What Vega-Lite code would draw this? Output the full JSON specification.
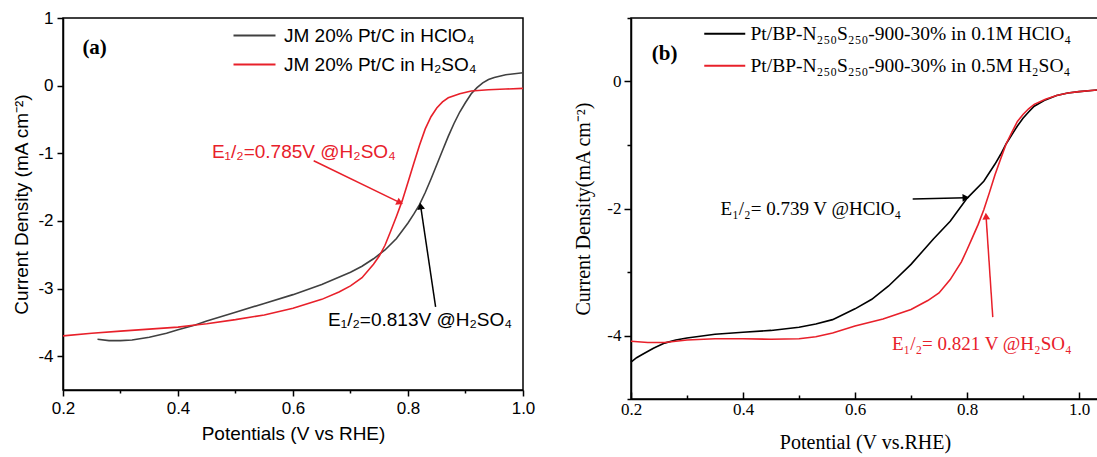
{
  "$schema": "https://vega.github.io/schema/vega-lite/v6.json",
  "autosize": {"type": "none"},
  "padding": {"left": 63, "top": 18, "right": 1034, "bottom": 439},
  "bounds": "flush",
  "spacing": 108,
  "background": "white",
  "config": {
    "view": {"stroke": "#000", "strokeWidth": 1.5},
    "axis": {"grid": false, "domainColor": "#000", "domainWidth": 1.5, "tickColor": "#000", "tickWidth": 1.5, "labelColor": "#000", "titleColor": "#000", "titleFontWeight": "normal", "labelOverlap": false, "labelFlush": false}
  },
  "resolve": {"scale": {"color": "independent"}, "legend": {"color": "independent"}},
  "hconcat": [
    {
      "width": 460,
      "height": 372,
      "layer": [
        {
          "data": {"values": [
            {"s": "JM 20% Pt/C in HClO₄", "x": 0.26, "y": -3.75},
            {"s": "JM 20% Pt/C in HClO₄", "x": 0.28, "y": -3.77},
            {"s": "JM 20% Pt/C in HClO₄", "x": 0.30, "y": -3.77},
            {"s": "JM 20% Pt/C in HClO₄", "x": 0.32, "y": -3.76},
            {"s": "JM 20% Pt/C in HClO₄", "x": 0.35, "y": -3.72},
            {"s": "JM 20% Pt/C in HClO₄", "x": 0.38, "y": -3.66},
            {"s": "JM 20% Pt/C in HClO₄", "x": 0.40, "y": -3.61},
            {"s": "JM 20% Pt/C in HClO₄", "x": 0.43, "y": -3.54},
            {"s": "JM 20% Pt/C in HClO₄", "x": 0.45, "y": -3.48},
            {"s": "JM 20% Pt/C in HClO₄", "x": 0.50, "y": -3.35},
            {"s": "JM 20% Pt/C in HClO₄", "x": 0.55, "y": -3.22},
            {"s": "JM 20% Pt/C in HClO₄", "x": 0.60, "y": -3.09},
            {"s": "JM 20% Pt/C in HClO₄", "x": 0.65, "y": -2.94},
            {"s": "JM 20% Pt/C in HClO₄", "x": 0.70, "y": -2.76},
            {"s": "JM 20% Pt/C in HClO₄", "x": 0.72, "y": -2.67},
            {"s": "JM 20% Pt/C in HClO₄", "x": 0.74, "y": -2.56},
            {"s": "JM 20% Pt/C in HClO₄", "x": 0.76, "y": -2.43},
            {"s": "JM 20% Pt/C in HClO₄", "x": 0.78, "y": -2.26},
            {"s": "JM 20% Pt/C in HClO₄", "x": 0.80, "y": -2.03},
            {"s": "JM 20% Pt/C in HClO₄", "x": 0.81, "y": -1.90},
            {"s": "JM 20% Pt/C in HClO₄", "x": 0.82, "y": -1.76},
            {"s": "JM 20% Pt/C in HClO₄", "x": 0.83, "y": -1.58},
            {"s": "JM 20% Pt/C in HClO₄", "x": 0.84, "y": -1.38},
            {"s": "JM 20% Pt/C in HClO₄", "x": 0.85, "y": -1.17},
            {"s": "JM 20% Pt/C in HClO₄", "x": 0.86, "y": -0.96},
            {"s": "JM 20% Pt/C in HClO₄", "x": 0.87, "y": -0.75},
            {"s": "JM 20% Pt/C in HClO₄", "x": 0.88, "y": -0.56},
            {"s": "JM 20% Pt/C in HClO₄", "x": 0.89, "y": -0.39},
            {"s": "JM 20% Pt/C in HClO₄", "x": 0.90, "y": -0.25},
            {"s": "JM 20% Pt/C in HClO₄", "x": 0.91, "y": -0.12},
            {"s": "JM 20% Pt/C in HClO₄", "x": 0.92, "y": -0.03},
            {"s": "JM 20% Pt/C in HClO₄", "x": 0.93, "y": 0.04},
            {"s": "JM 20% Pt/C in HClO₄", "x": 0.94, "y": 0.09},
            {"s": "JM 20% Pt/C in HClO₄", "x": 0.95, "y": 0.12},
            {"s": "JM 20% Pt/C in HClO₄", "x": 0.97, "y": 0.16},
            {"s": "JM 20% Pt/C in HClO₄", "x": 1.00, "y": 0.19},
            {"s": "JM 20% Pt/C in H₂SO₄", "x": 0.20, "y": -3.70},
            {"s": "JM 20% Pt/C in H₂SO₄", "x": 0.25, "y": -3.66},
            {"s": "JM 20% Pt/C in H₂SO₄", "x": 0.30, "y": -3.63},
            {"s": "JM 20% Pt/C in H₂SO₄", "x": 0.35, "y": -3.60},
            {"s": "JM 20% Pt/C in H₂SO₄", "x": 0.40, "y": -3.57},
            {"s": "JM 20% Pt/C in H₂SO₄", "x": 0.43, "y": -3.54},
            {"s": "JM 20% Pt/C in H₂SO₄", "x": 0.45, "y": -3.52},
            {"s": "JM 20% Pt/C in H₂SO₄", "x": 0.50, "y": -3.46},
            {"s": "JM 20% Pt/C in H₂SO₄", "x": 0.55, "y": -3.39},
            {"s": "JM 20% Pt/C in H₂SO₄", "x": 0.60, "y": -3.29},
            {"s": "JM 20% Pt/C in H₂SO₄", "x": 0.65, "y": -3.16},
            {"s": "JM 20% Pt/C in H₂SO₄", "x": 0.68, "y": -3.05},
            {"s": "JM 20% Pt/C in H₂SO₄", "x": 0.70, "y": -2.96},
            {"s": "JM 20% Pt/C in H₂SO₄", "x": 0.72, "y": -2.84},
            {"s": "JM 20% Pt/C in H₂SO₄", "x": 0.74, "y": -2.64},
            {"s": "JM 20% Pt/C in H₂SO₄", "x": 0.75, "y": -2.52},
            {"s": "JM 20% Pt/C in H₂SO₄", "x": 0.76, "y": -2.36},
            {"s": "JM 20% Pt/C in H₂SO₄", "x": 0.77, "y": -2.15},
            {"s": "JM 20% Pt/C in H₂SO₄", "x": 0.78, "y": -1.93},
            {"s": "JM 20% Pt/C in H₂SO₄", "x": 0.79, "y": -1.70},
            {"s": "JM 20% Pt/C in H₂SO₄", "x": 0.80, "y": -1.43},
            {"s": "JM 20% Pt/C in H₂SO₄", "x": 0.81, "y": -1.15},
            {"s": "JM 20% Pt/C in H₂SO₄", "x": 0.82, "y": -0.88},
            {"s": "JM 20% Pt/C in H₂SO₄", "x": 0.83, "y": -0.64},
            {"s": "JM 20% Pt/C in H₂SO₄", "x": 0.84, "y": -0.46},
            {"s": "JM 20% Pt/C in H₂SO₄", "x": 0.85, "y": -0.33},
            {"s": "JM 20% Pt/C in H₂SO₄", "x": 0.86, "y": -0.24},
            {"s": "JM 20% Pt/C in H₂SO₄", "x": 0.87, "y": -0.18},
            {"s": "JM 20% Pt/C in H₂SO₄", "x": 0.89, "y": -0.12},
            {"s": "JM 20% Pt/C in H₂SO₄", "x": 0.91, "y": -0.08},
            {"s": "JM 20% Pt/C in H₂SO₄", "x": 0.94, "y": -0.06},
            {"s": "JM 20% Pt/C in H₂SO₄", "x": 0.97, "y": -0.05},
            {"s": "JM 20% Pt/C in H₂SO₄", "x": 1.00, "y": -0.04}
          ]},
          "mark": {"type": "line", "strokeWidth": 1.6},
          "encoding": {
            "x": {"field": "x", "type": "quantitative", "scale": {"domain": [0.2, 1.0], "nice": false, "zero": false},
              "axis": {"title": "Potentials (V vs RHE)", "values": [0.2, 0.3, 0.4, 0.5, 0.6, 0.7, 0.8, 0.9, 1.0],
                "labelExpr": "abs(datum.value*5 - round(datum.value*5)) < 0.001 ? format(datum.value, '.1f') : ''",
                "tickSize": {"condition": {"test": "abs(datum.value*5 - round(datum.value*5)) > 0.001", "value": 3}, "value": 6},
                "labelFont": "Liberation Sans", "labelFontSize": 17, "labelPadding": 4, "titleFont": "Liberation Sans", "titleFontSize": 19, "titlePadding": 8}},
            "y": {"field": "y", "type": "quantitative", "scale": {"domain": [-4.5, 1], "nice": false, "zero": false},
              "axis": {"title": "Current Density (mA cm⁻²)", "values": [-4, -3.5, -3, -2.5, -2, -1.5, -1, -0.5, 0, 0.5, 1],
                "labelExpr": "datum.value == round(datum.value) ? replace(format(datum.value, 'd'), '−', '-') : ''",
                "tickSize": {"condition": {"test": "datum.value != round(datum.value)", "value": 3}, "value": 6},
                "labelFont": "Liberation Sans", "labelFontSize": 17, "labelPadding": 4, "titleFont": "Liberation Sans", "titleFontSize": 19, "titlePadding": 6}},
            "color": {"field": "s", "type": "nominal",
              "scale": {"domain": ["JM 20% Pt/C in HClO₄", "JM 20% Pt/C in H₂SO₄"], "range": ["#404040", "#e8202a"]},
              "legend": {"title": null, "orient": "none", "legendX": 182, "legendY": 8, "padding": 0,
                "symbolType": "M-4.2,0H4.2", "symbolSize": 100, "symbolStrokeWidth": 2, "labelOffset": 20,
                "rowPadding": 9, "labelFont": "Liberation Sans", "labelFontSize": 19, "labelColor": "#000", "labelLimit": 400}}
          }
        },
        {
          "data": {"values": [{"x": 0.459, "y": -0.98, "t": "E₁/₂=0.785V @H₂SO₄"}]},
          "mark": {"type": "text", "align": "left", "baseline": "middle", "font": "Liberation Sans", "fontSize": 19, "color": "#e8202a"},
          "encoding": {"x": {"field": "x", "type": "quantitative"}, "y": {"field": "y", "type": "quantitative"}, "text": {"field": "t"}}
        },
        {
          "data": {"values": [{"x": 0.661, "y": -3.46, "t": "E₁/₂=0.813V @H₂SO₄"}]},
          "mark": {"type": "text", "align": "left", "baseline": "middle", "font": "Liberation Sans", "fontSize": 19, "color": "#000"},
          "encoding": {"x": {"field": "x", "type": "quantitative"}, "y": {"field": "y", "type": "quantitative"}, "text": {"field": "t"}}
        },
        {
          "data": {"values": [{"x": 0.255, "y": 0.55, "t": "(a)"}]},
          "mark": {"type": "text", "align": "center", "baseline": "middle", "font": "Liberation Serif", "fontWeight": "bold", "fontSize": 21, "color": "#000"},
          "encoding": {"x": {"field": "x", "type": "quantitative"}, "y": {"field": "y", "type": "quantitative"}, "text": {"field": "t"}}
        },
        {
          "data": {"values": [{"x": 0.636, "y": -1.11, "x2": 0.786, "y2": -1.73}]},
          "mark": {"type": "rule", "color": "#e8202a", "strokeWidth": 1.5},
          "encoding": {"x": {"field": "x", "type": "quantitative"}, "y": {"field": "y", "type": "quantitative"}, "x2": {"field": "x2"}, "y2": {"field": "y2"}}
        },
        {
          "data": {"values": [{"x": 0.786, "y": -1.73}]},
          "mark": {"type": "point", "shape": "triangle-up", "filled": true, "opacity": 1, "size": 60, "angle": 116, "color": "#e8202a"},
          "encoding": {"x": {"field": "x", "type": "quantitative"}, "y": {"field": "y", "type": "quantitative"}}
        },
        {
          "data": {"values": [{"x": 0.848, "y": -3.27, "x2": 0.822, "y2": -1.78}]},
          "mark": {"type": "rule", "color": "#000", "strokeWidth": 1.5},
          "encoding": {"x": {"field": "x", "type": "quantitative"}, "y": {"field": "y", "type": "quantitative"}, "x2": {"field": "x2"}, "y2": {"field": "y2"}}
        },
        {
          "data": {"values": [{"x": 0.822, "y": -1.78}]},
          "mark": {"type": "point", "shape": "triangle-up", "filled": true, "opacity": 1, "size": 60, "angle": -8.5, "color": "#000"},
          "encoding": {"x": {"field": "x", "type": "quantitative"}, "y": {"field": "y", "type": "quantitative"}}
        }
      ]
    },
    {
      "width": 468,
      "height": 381,
      "layer": [
        {
          "data": {"values": [
            {"s": "Pt/BP-N₂₅₀S₂₅₀-900-30% in 0.1M HClO₄", "x": 0.200, "y": -4.42},
            {"s": "Pt/BP-N₂₅₀S₂₅₀-900-30% in 0.1M HClO₄", "x": 0.210, "y": -4.35},
            {"s": "Pt/BP-N₂₅₀S₂₅₀-900-30% in 0.1M HClO₄", "x": 0.220, "y": -4.30},
            {"s": "Pt/BP-N₂₅₀S₂₅₀-900-30% in 0.1M HClO₄", "x": 0.240, "y": -4.20},
            {"s": "Pt/BP-N₂₅₀S₂₅₀-900-30% in 0.1M HClO₄", "x": 0.260, "y": -4.12},
            {"s": "Pt/BP-N₂₅₀S₂₅₀-900-30% in 0.1M HClO₄", "x": 0.280, "y": -4.07},
            {"s": "Pt/BP-N₂₅₀S₂₅₀-900-30% in 0.1M HClO₄", "x": 0.300, "y": -4.04},
            {"s": "Pt/BP-N₂₅₀S₂₅₀-900-30% in 0.1M HClO₄", "x": 0.350, "y": -3.98},
            {"s": "Pt/BP-N₂₅₀S₂₅₀-900-30% in 0.1M HClO₄", "x": 0.400, "y": -3.95},
            {"s": "Pt/BP-N₂₅₀S₂₅₀-900-30% in 0.1M HClO₄", "x": 0.450, "y": -3.92},
            {"s": "Pt/BP-N₂₅₀S₂₅₀-900-30% in 0.1M HClO₄", "x": 0.500, "y": -3.87},
            {"s": "Pt/BP-N₂₅₀S₂₅₀-900-30% in 0.1M HClO₄", "x": 0.530, "y": -3.82},
            {"s": "Pt/BP-N₂₅₀S₂₅₀-900-30% in 0.1M HClO₄", "x": 0.560, "y": -3.75},
            {"s": "Pt/BP-N₂₅₀S₂₅₀-900-30% in 0.1M HClO₄", "x": 0.600, "y": -3.58},
            {"s": "Pt/BP-N₂₅₀S₂₅₀-900-30% in 0.1M HClO₄", "x": 0.630, "y": -3.43},
            {"s": "Pt/BP-N₂₅₀S₂₅₀-900-30% in 0.1M HClO₄", "x": 0.660, "y": -3.22},
            {"s": "Pt/BP-N₂₅₀S₂₅₀-900-30% in 0.1M HClO₄", "x": 0.700, "y": -2.88},
            {"s": "Pt/BP-N₂₅₀S₂₅₀-900-30% in 0.1M HClO₄", "x": 0.740, "y": -2.48},
            {"s": "Pt/BP-N₂₅₀S₂₅₀-900-30% in 0.1M HClO₄", "x": 0.770, "y": -2.20},
            {"s": "Pt/BP-N₂₅₀S₂₅₀-900-30% in 0.1M HClO₄", "x": 0.800, "y": -1.84},
            {"s": "Pt/BP-N₂₅₀S₂₅₀-900-30% in 0.1M HClO₄", "x": 0.830, "y": -1.57},
            {"s": "Pt/BP-N₂₅₀S₂₅₀-900-30% in 0.1M HClO₄", "x": 0.850, "y": -1.30},
            {"s": "Pt/BP-N₂₅₀S₂₅₀-900-30% in 0.1M HClO₄", "x": 0.860, "y": -1.15},
            {"s": "Pt/BP-N₂₅₀S₂₅₀-900-30% in 0.1M HClO₄", "x": 0.870, "y": -0.98},
            {"s": "Pt/BP-N₂₅₀S₂₅₀-900-30% in 0.1M HClO₄", "x": 0.880, "y": -0.84},
            {"s": "Pt/BP-N₂₅₀S₂₅₀-900-30% in 0.1M HClO₄", "x": 0.890, "y": -0.70},
            {"s": "Pt/BP-N₂₅₀S₂₅₀-900-30% in 0.1M HClO₄", "x": 0.900, "y": -0.58},
            {"s": "Pt/BP-N₂₅₀S₂₅₀-900-30% in 0.1M HClO₄", "x": 0.910, "y": -0.48},
            {"s": "Pt/BP-N₂₅₀S₂₅₀-900-30% in 0.1M HClO₄", "x": 0.920, "y": -0.39},
            {"s": "Pt/BP-N₂₅₀S₂₅₀-900-30% in 0.1M HClO₄", "x": 0.940, "y": -0.29},
            {"s": "Pt/BP-N₂₅₀S₂₅₀-900-30% in 0.1M HClO₄", "x": 0.960, "y": -0.22},
            {"s": "Pt/BP-N₂₅₀S₂₅₀-900-30% in 0.1M HClO₄", "x": 0.980, "y": -0.18},
            {"s": "Pt/BP-N₂₅₀S₂₅₀-900-30% in 0.1M HClO₄", "x": 1.000, "y": -0.16},
            {"s": "Pt/BP-N₂₅₀S₂₅₀-900-30% in 0.1M HClO₄", "x": 1.036, "y": -0.13},
            {"s": "Pt/BP-N₂₅₀S₂₅₀-900-30% in 0.5M H₂SO₄", "x": 0.200, "y": -4.09},
            {"s": "Pt/BP-N₂₅₀S₂₅₀-900-30% in 0.5M H₂SO₄", "x": 0.230, "y": -4.11},
            {"s": "Pt/BP-N₂₅₀S₂₅₀-900-30% in 0.5M H₂SO₄", "x": 0.260, "y": -4.11},
            {"s": "Pt/BP-N₂₅₀S₂₅₀-900-30% in 0.5M H₂SO₄", "x": 0.300, "y": -4.07},
            {"s": "Pt/BP-N₂₅₀S₂₅₀-900-30% in 0.5M H₂SO₄", "x": 0.350, "y": -4.05},
            {"s": "Pt/BP-N₂₅₀S₂₅₀-900-30% in 0.5M H₂SO₄", "x": 0.400, "y": -4.05},
            {"s": "Pt/BP-N₂₅₀S₂₅₀-900-30% in 0.5M H₂SO₄", "x": 0.450, "y": -4.06},
            {"s": "Pt/BP-N₂₅₀S₂₅₀-900-30% in 0.5M H₂SO₄", "x": 0.500, "y": -4.05},
            {"s": "Pt/BP-N₂₅₀S₂₅₀-900-30% in 0.5M H₂SO₄", "x": 0.530, "y": -4.02},
            {"s": "Pt/BP-N₂₅₀S₂₅₀-900-30% in 0.5M H₂SO₄", "x": 0.560, "y": -3.96},
            {"s": "Pt/BP-N₂₅₀S₂₅₀-900-30% in 0.5M H₂SO₄", "x": 0.600, "y": -3.85},
            {"s": "Pt/BP-N₂₅₀S₂₅₀-900-30% in 0.5M H₂SO₄", "x": 0.650, "y": -3.74},
            {"s": "Pt/BP-N₂₅₀S₂₅₀-900-30% in 0.5M H₂SO₄", "x": 0.700, "y": -3.59},
            {"s": "Pt/BP-N₂₅₀S₂₅₀-900-30% in 0.5M H₂SO₄", "x": 0.730, "y": -3.45},
            {"s": "Pt/BP-N₂₅₀S₂₅₀-900-30% in 0.5M H₂SO₄", "x": 0.750, "y": -3.33},
            {"s": "Pt/BP-N₂₅₀S₂₅₀-900-30% in 0.5M H₂SO₄", "x": 0.770, "y": -3.12},
            {"s": "Pt/BP-N₂₅₀S₂₅₀-900-30% in 0.5M H₂SO₄", "x": 0.790, "y": -2.84},
            {"s": "Pt/BP-N₂₅₀S₂₅₀-900-30% in 0.5M H₂SO₄", "x": 0.800, "y": -2.65},
            {"s": "Pt/BP-N₂₅₀S₂₅₀-900-30% in 0.5M H₂SO₄", "x": 0.810, "y": -2.45},
            {"s": "Pt/BP-N₂₅₀S₂₅₀-900-30% in 0.5M H₂SO₄", "x": 0.820, "y": -2.25},
            {"s": "Pt/BP-N₂₅₀S₂₅₀-900-30% in 0.5M H₂SO₄", "x": 0.830, "y": -2.02},
            {"s": "Pt/BP-N₂₅₀S₂₅₀-900-30% in 0.5M H₂SO₄", "x": 0.840, "y": -1.75},
            {"s": "Pt/BP-N₂₅₀S₂₅₀-900-30% in 0.5M H₂SO₄", "x": 0.850, "y": -1.47},
            {"s": "Pt/BP-N₂₅₀S₂₅₀-900-30% in 0.5M H₂SO₄", "x": 0.860, "y": -1.22},
            {"s": "Pt/BP-N₂₅₀S₂₅₀-900-30% in 0.5M H₂SO₄", "x": 0.870, "y": -0.98},
            {"s": "Pt/BP-N₂₅₀S₂₅₀-900-30% in 0.5M H₂SO₄", "x": 0.880, "y": -0.80},
            {"s": "Pt/BP-N₂₅₀S₂₅₀-900-30% in 0.5M H₂SO₄", "x": 0.890, "y": -0.63},
            {"s": "Pt/BP-N₂₅₀S₂₅₀-900-30% in 0.5M H₂SO₄", "x": 0.900, "y": -0.52},
            {"s": "Pt/BP-N₂₅₀S₂₅₀-900-30% in 0.5M H₂SO₄", "x": 0.910, "y": -0.43},
            {"s": "Pt/BP-N₂₅₀S₂₅₀-900-30% in 0.5M H₂SO₄", "x": 0.920, "y": -0.36},
            {"s": "Pt/BP-N₂₅₀S₂₅₀-900-30% in 0.5M H₂SO₄", "x": 0.940, "y": -0.28},
            {"s": "Pt/BP-N₂₅₀S₂₅₀-900-30% in 0.5M H₂SO₄", "x": 0.960, "y": -0.22},
            {"s": "Pt/BP-N₂₅₀S₂₅₀-900-30% in 0.5M H₂SO₄", "x": 0.980, "y": -0.18},
            {"s": "Pt/BP-N₂₅₀S₂₅₀-900-30% in 0.5M H₂SO₄", "x": 1.000, "y": -0.16},
            {"s": "Pt/BP-N₂₅₀S₂₅₀-900-30% in 0.5M H₂SO₄", "x": 1.036, "y": -0.13}
          ]},
          "mark": {"type": "line", "strokeWidth": 1.6},
          "encoding": {
            "x": {"field": "x", "type": "quantitative", "scale": {"domain": [0.2, 1.0357], "nice": false, "zero": false},
              "axis": {"title": "Potential (V vs.RHE)", "values": [0.2, 0.3, 0.4, 0.5, 0.6, 0.7, 0.8, 0.9, 1.0],
                "labelExpr": "abs(datum.value*5 - round(datum.value*5)) < 0.001 ? format(datum.value, '.1f') : ''",
                "tickSize": {"condition": {"test": "abs(datum.value*5 - round(datum.value*5)) > 0.001", "value": -4}, "value": -7},
                "labelFont": "Liberation Serif", "labelFontSize": 17, "labelPadding": 9, "titleFont": "Liberation Serif", "titleFontSize": 20, "titlePadding": 12}},
            "y": {"field": "y", "type": "quantitative", "scale": {"domain": [-5, 1], "nice": false, "zero": false},
              "axis": {"title": "Current Density(mA cm⁻²)", "values": [-5, -4, -3, -2, -1, 0, 1],
                "labelExpr": "datum.value % 2 == 0 ? replace(format(datum.value, 'd'), '−', '-') : ''",
                "tickSize": {"condition": {"test": "datum.value % 2 != 0", "value": 4}, "value": 7},
                "labelFont": "Liberation Serif", "labelFontSize": 17, "labelPadding": 3, "titleFont": "Liberation Serif", "titleFontSize": 20, "titlePadding": 13}},
            "color": {"field": "s", "type": "nominal",
              "scale": {"domain": ["Pt/BP-N₂₅₀S₂₅₀-900-30% in 0.1M HClO₄", "Pt/BP-N₂₅₀S₂₅₀-900-30% in 0.5M H₂SO₄"], "range": ["#000000", "#e8202a"]},
              "legend": {"title": null, "orient": "none", "legendX": 84, "legendY": 6, "padding": 0,
                "symbolType": "M-4.1,0H4.1", "symbolSize": 100, "symbolStrokeWidth": 2, "labelOffset": 16,
                "rowPadding": 11, "labelFont": "Liberation Serif", "labelFontSize": 19.5, "labelColor": "#000", "labelLimit": 500}}
          }
        },
        {
          "data": {"values": [{"x": 0.36, "y": -2.0, "t": "E₁/₂= 0.739 V @HClO₄"}]},
          "mark": {"type": "text", "align": "left", "baseline": "middle", "font": "Liberation Serif", "fontSize": 19, "color": "#000"},
          "encoding": {"x": {"field": "x", "type": "quantitative"}, "y": {"field": "y", "type": "quantitative"}, "text": {"field": "t"}}
        },
        {
          "data": {"values": [{"x": 0.666, "y": -4.13, "t": "E₁/₂= 0.821 V @H₂SO₄"}]},
          "mark": {"type": "text", "align": "left", "baseline": "middle", "font": "Liberation Serif", "fontSize": 19, "color": "#e8202a"},
          "encoding": {"x": {"field": "x", "type": "quantitative"}, "y": {"field": "y", "type": "quantitative"}, "text": {"field": "t"}}
        },
        {
          "data": {"values": [{"x": 0.26, "y": 0.43, "t": "(b)"}]},
          "mark": {"type": "text", "align": "center", "baseline": "middle", "font": "Liberation Serif", "fontWeight": "bold", "fontSize": 21, "color": "#000"},
          "encoding": {"x": {"field": "x", "type": "quantitative"}, "y": {"field": "y", "type": "quantitative"}, "text": {"field": "t"}}
        },
        {
          "data": {"values": [{"x": 0.703, "y": -1.85, "x2": 0.798, "y2": -1.83}]},
          "mark": {"type": "rule", "color": "#000", "strokeWidth": 1.5},
          "encoding": {"x": {"field": "x", "type": "quantitative"}, "y": {"field": "y", "type": "quantitative"}, "x2": {"field": "x2"}, "y2": {"field": "y2"}}
        },
        {
          "data": {"values": [{"x": 0.798, "y": -1.83}]},
          "mark": {"type": "point", "shape": "triangle-up", "filled": true, "opacity": 1, "size": 60, "angle": 88.6, "color": "#000"},
          "encoding": {"x": {"field": "x", "type": "quantitative"}, "y": {"field": "y", "type": "quantitative"}}
        },
        {
          "data": {"values": [{"x": 0.846, "y": -3.71, "x2": 0.834, "y2": -2.12}]},
          "mark": {"type": "rule", "color": "#e8202a", "strokeWidth": 1.5},
          "encoding": {"x": {"field": "x", "type": "quantitative"}, "y": {"field": "y", "type": "quantitative"}, "x2": {"field": "x2"}, "y2": {"field": "y2"}}
        },
        {
          "data": {"values": [{"x": 0.834, "y": -2.12}]},
          "mark": {"type": "point", "shape": "triangle-up", "filled": true, "opacity": 1, "size": 60, "angle": -3.8, "color": "#e8202a"},
          "encoding": {"x": {"field": "x", "type": "quantitative"}, "y": {"field": "y", "type": "quantitative"}}
        }
      ]
    }
  ]
}
